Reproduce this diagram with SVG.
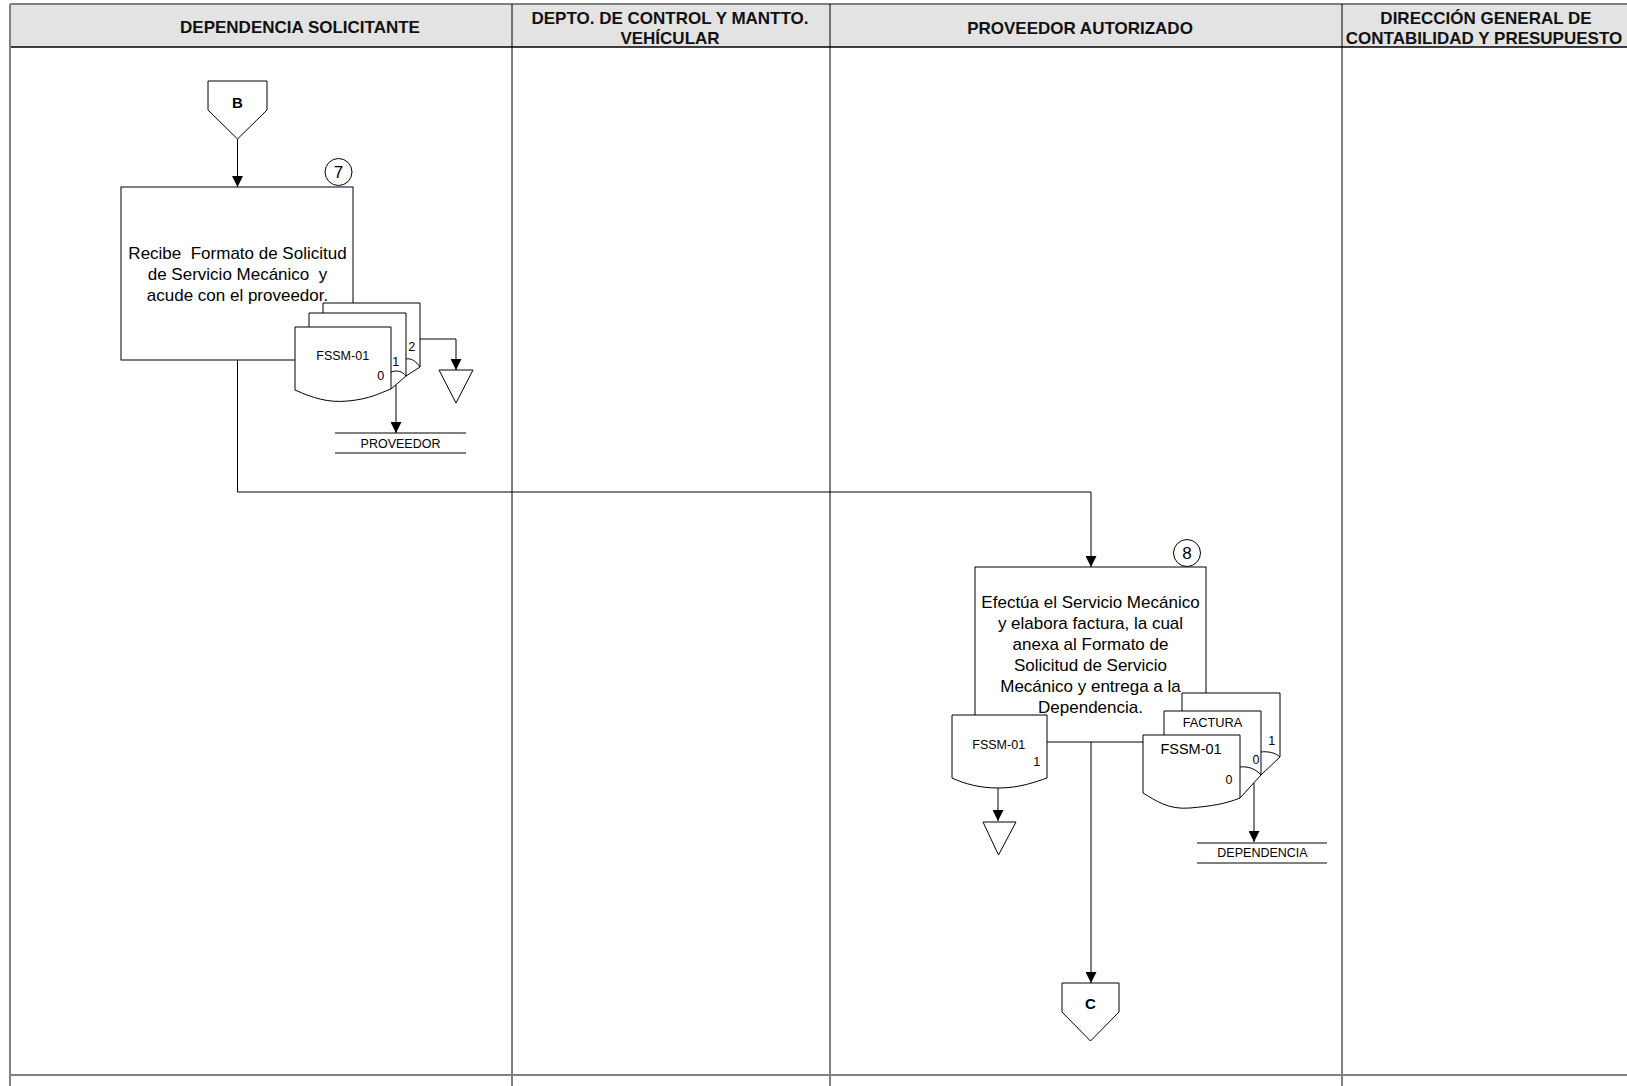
<svg xmlns="http://www.w3.org/2000/svg" width="1627" height="1086" viewBox="0 0 1627 1086">
<style>
.frame{stroke:#808080;stroke-width:2;fill:none}
.lane{stroke:#000;stroke-width:1;fill:none}
.hdr{font-family:"Liberation Sans",Arial,sans-serif;font-weight:bold;font-size:17px;fill:#111;text-anchor:middle}
.shape{fill:#fff;stroke:#000;stroke-width:1}
.line{fill:none;stroke:#000;stroke-width:1}
.conn{fill:none;stroke:#000;stroke-width:1;marker-end:url(#arr)}
.t17{font-family:"Liberation Sans",Arial,sans-serif;font-size:17px;fill:#000;text-anchor:middle;white-space:pre}
.t16{font-family:"Liberation Sans",Arial,sans-serif;font-size:17px;fill:#000;text-anchor:middle}
.tb{font-family:"Liberation Sans",Arial,sans-serif;font-size:15px;font-weight:bold;fill:#000;text-anchor:middle}
.ts{font-family:"Liberation Sans",Arial,sans-serif;font-size:12.5px;fill:#000;text-anchor:middle}
</style>
<defs>
<marker id="arr" markerWidth="11" markerHeight="11" refX="11" refY="5.5" orient="auto" markerUnits="userSpaceOnUse">
<path d="M0,0 L11,5.5 L0,11 Z" fill="#000"/>
</marker>
</defs>
<rect x="0" y="0" width="1627" height="1086" fill="#fff"/>
<g id="header">
<rect x="10" y="4" width="1617" height="43" fill="#e3e3e3"/>
<line class="frame" x1="10" y1="4" x2="1627" y2="4"/>
<line x1="10" y1="47" x2="1627" y2="47" stroke="#000" stroke-width="1.5"/>
<text class="hdr" x="300" y="33">DEPENDENCIA SOLICITANTE</text>
<text class="hdr" x="670" y="24">DEPTO. DE CONTROL Y MANTTO.</text>
<text class="hdr" x="670" y="44">VEHÍCULAR</text>
<text class="hdr" x="1080" y="34">PROVEEDOR AUTORIZADO</text>
<text class="hdr" x="1486" y="24">DIRECCIÓN GENERAL DE</text>
<text class="hdr" x="1484" y="44">CONTABILIDAD Y PRESUPUESTO</text>
</g>
<g id="lanes">
<line class="frame" x1="10" y1="4" x2="10" y2="1086"/>
<line class="lane" x1="512" y1="4" x2="512" y2="1086"/>
<line class="lane" x1="830" y1="4" x2="830" y2="1086"/>
<line class="lane" x1="1342" y1="4" x2="1342" y2="1086"/>
<line class="frame" x1="10" y1="1075" x2="1627" y2="1075"/>
</g>
<g id="connectors">
<path class="conn" d="M237.5,139 V187"/>
<path class="conn" d="M237.5,360 V492 H1091 V567"/>
<path class="conn" d="M420,339 H456 V370"/>
<path class="conn" d="M396,385 V433"/>
<path class="conn" d="M1091,742 V983"/>
<path class="conn" d="M998,788 V821"/>
<path class="conn" d="M1254,783 V842"/>
</g>
<g id="nodeB">
<path class="shape" d="M208,81 H267 V110 L237.5,139 L208,110 Z"/>
<text class="tb" x="237.5" y="108">B</text>
</g>
<g id="step7">
<rect class="shape" x="121" y="187" width="232" height="173"/>
<circle class="shape" cx="338.5" cy="172" r="13.5"/>
<text class="t16" x="338.5" y="178">7</text>
<text class="t17" x="237.5" y="259" xml:space="preserve">Recibe  Formato de Solicitud</text>
<text class="t17" x="237.5" y="280" xml:space="preserve">de Servicio Mecánico  y</text>
<text class="t17" x="237.5" y="301">acude con el proveedor.</text>
</g>
<g id="docs7">
<path class="shape" d="M323,360 V303 H420 V367 C416,361 411,358 406,359 L323,359 Z"/>
<path class="shape" d="M309,375 V313 H406 V376 C402,371 397,370 391,372 L309,374 Z"/>
<path class="shape" d="M295,390 V327 H391 V389 C380,393 370,399 348,401 C328,403 313,398 295,390 Z"/>
<path class="line" d="M391,389 L406,376 L420,367"/>
<text class="ts" x="342.7" y="359.5">FSSM-01</text>
<text class="ts" x="380.7" y="379.5">0</text>
<text class="ts" x="395.7" y="365.5">1</text>
<text class="ts" x="411.7" y="351">2</text>
</g>
<g id="archive7">
<path class="shape" d="M439,370 H473 L456,403 Z"/>
</g>
<g id="dest7">
<line class="line" x1="335" y1="433" x2="466" y2="433"/>
<line class="line" x1="335" y1="453" x2="466" y2="453"/>
<text class="ts" x="400.5" y="447.5">PROVEEDOR</text>
</g>
<g id="step8">
<rect class="shape" x="975" y="567" width="231" height="175"/>
<circle class="shape" cx="1187" cy="553" r="13.5"/>
<text class="t16" x="1187" y="559">8</text>
<text class="t17" x="1090.5" y="608">Efectúa el Servicio Mecánico</text>
<text class="t17" x="1090.5" y="629">y elabora factura, la cual</text>
<text class="t17" x="1090.5" y="650">anexa al Formato de</text>
<text class="t17" x="1090.5" y="671">Solicitud de Servicio</text>
<text class="t17" x="1090.5" y="692">Mecánico y entrega a la</text>
<text class="t17" x="1090.5" y="712.5">Dependencia.</text>
</g>
<g id="doc8left">
<path class="shape" d="M952,778 V715 H1047 V778 C1035,782 1020,788 998,788 C980,788 965,784 952,778 Z"/>
<text class="ts" x="998.7" y="748.5">FSSM-01</text>
<text class="ts" x="1036.7" y="765.5">1</text>
</g>
<g id="archive8">
<path class="shape" d="M983,822 H1016 L998.5,855 Z"/>
</g>
<g id="docs8">
<path class="shape" d="M1182,760 V693 H1280 V757 C1276,753 1268,751 1261,752 L1182,752 Z"/>
<path class="shape" d="M1164,780 V711 H1261 V775 C1256,769 1248,766 1240,767 L1164,768 Z"/>
<path class="shape" d="M1143,793 V735 H1240 V798 C1225,804 1212,806 1190,808 C1168,810 1155,800 1143,793 Z"/>
<path class="line" d="M1240,798 L1261,775 L1280,757"/>
<text class="ts" x="1212.5" y="727" style="font-size:12.8px">FACTURA</text>
<text class="ts" x="1191" y="753.5" style="font-size:14.5px">FSSM-01</text>
<text class="ts" x="1229" y="784">0</text>
<text class="ts" x="1256" y="764">0</text>
<text class="ts" x="1271.7" y="744.5">1</text>
</g>
<g id="dest8">
<line class="line" x1="1197" y1="843" x2="1327" y2="843"/>
<line class="line" x1="1197" y1="863" x2="1327" y2="863"/>
<text class="ts" x="1262.5" y="857">DEPENDENCIA</text>
</g>
<g id="nodeC">
<path class="shape" d="M1062,983 H1119 V1012 L1090.5,1041 L1062,1012 Z"/>
<text class="tb" x="1090.5" y="1009">C</text>
</g>
</svg>
